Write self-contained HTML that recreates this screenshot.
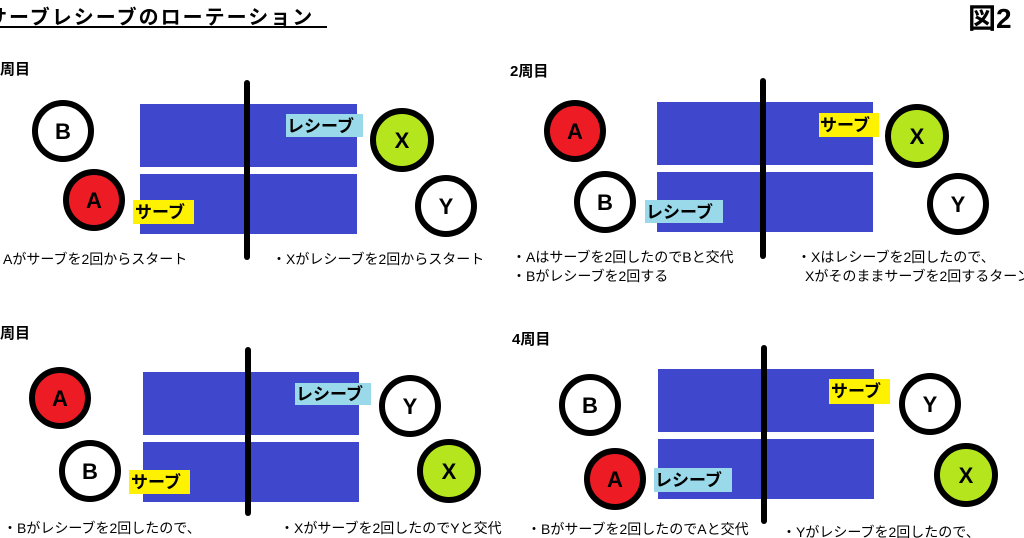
<!DOCTYPE html>
<html><head><meta charset="utf-8"><style>
html,body{margin:0;padding:0;background:#fff;width:1024px;height:538px;overflow:hidden}
svg{display:block}
text{font-family:"Liberation Sans","Noto Sans CJK JP",sans-serif}
.b{font-weight:bold}
.d{font-size:14px}
.lab{font-size:17px;font-weight:bold}
.c{font-size:22px;font-weight:bold}
</style></head><body>
<svg width="1024" height="538" viewBox="0 0 1024 538" xmlns="http://www.w3.org/2000/svg">
<text x="-13" y="24" class="b" font-size="20" letter-spacing="2">サーブレシーブのローテーション</text>
<rect x="0" y="26" width="327" height="2" fill="#000"/>
<text x="968" y="28" class="b" font-size="28">図2</text>

<!-- Panel 1 -->
<text x="0" y="74" class="b" font-size="15">周目</text>
<rect x="140" y="104" width="217" height="63" fill="#3f48cc"/>
<rect x="140" y="174" width="217" height="60" fill="#3f48cc"/>
<line x1="247" y1="83" x2="247" y2="257" stroke="#000" stroke-width="6" stroke-linecap="round"/>
<rect x="286" y="114" width="77" height="23" fill="#99d9ea"/><text x="287" y="132" class="lab">レシーブ</text>
<rect x="133" y="200" width="61" height="24" fill="#fff200"/><text x="135" y="218" class="lab">サーブ</text>
<circle cx="63" cy="131" r="28" fill="#fff" stroke="#000" stroke-width="6"/><text x="63" y="139" class="c" text-anchor="middle">B</text>
<circle cx="94" cy="200" r="28" fill="#ed1c24" stroke="#000" stroke-width="6"/><text x="94" y="208" class="c" text-anchor="middle">A</text>
<circle cx="402" cy="140" r="29" fill="#b5e61d" stroke="#000" stroke-width="6"/><text x="402" y="148" class="c" text-anchor="middle">X</text>
<circle cx="446" cy="206" r="28" fill="#fff" stroke="#000" stroke-width="6"/><text x="446" y="214" class="c" text-anchor="middle">Y</text>
<text x="3" y="264" class="d">Aがサーブを2回からスタート</text>
<text x="272" y="264" class="d">・Xがレシーブを2回からスタート</text>

<!-- Panel 2 -->
<text x="510" y="76" class="b" font-size="15">2周目</text>
<rect x="657" y="102" width="216" height="63" fill="#3f48cc"/>
<rect x="657" y="172" width="216" height="60" fill="#3f48cc"/>
<line x1="763" y1="81" x2="763" y2="256" stroke="#000" stroke-width="6" stroke-linecap="round"/>
<rect x="819" y="113" width="60" height="24" fill="#fff200"/><text x="820" y="131" class="lab">サーブ</text>
<rect x="645" y="200" width="78" height="23" fill="#99d9ea"/><text x="646" y="218" class="lab">レシーブ</text>
<circle cx="575" cy="131" r="28" fill="#ed1c24" stroke="#000" stroke-width="6"/><text x="575" y="139" class="c" text-anchor="middle">A</text>
<circle cx="605" cy="202" r="28" fill="#fff" stroke="#000" stroke-width="6"/><text x="605" y="210" class="c" text-anchor="middle">B</text>
<circle cx="917" cy="136" r="29" fill="#b5e61d" stroke="#000" stroke-width="6"/><text x="917" y="144" class="c" text-anchor="middle">X</text>
<circle cx="958" cy="204" r="28" fill="#fff" stroke="#000" stroke-width="6"/><text x="958" y="212" class="c" text-anchor="middle">Y</text>
<text x="512" y="262" class="d">・Aはサーブを2回したのでBと交代</text>
<text x="512" y="281" class="d">・Bがレシーブを2回する</text>
<text x="797" y="262" class="d">・Xはレシーブを2回したので、</text>
<text x="805" y="281" class="d">Xがそのままサーブを2回するターン</text>

<!-- Panel 3 -->
<text x="0" y="338" class="b" font-size="15">周目</text>
<rect x="143" y="372" width="216" height="63" fill="#3f48cc"/>
<rect x="143" y="442" width="216" height="60" fill="#3f48cc"/>
<line x1="248" y1="350" x2="248" y2="513" stroke="#000" stroke-width="6" stroke-linecap="round"/>
<rect x="295" y="383" width="76" height="22" fill="#99d9ea"/><text x="296" y="400" class="lab">レシーブ</text>
<rect x="129" y="470" width="61" height="24" fill="#fff200"/><text x="131" y="488" class="lab">サーブ</text>
<circle cx="60" cy="398" r="28" fill="#ed1c24" stroke="#000" stroke-width="6"/><text x="60" y="406" class="c" text-anchor="middle">A</text>
<circle cx="90" cy="471" r="28" fill="#fff" stroke="#000" stroke-width="6"/><text x="90" y="479" class="c" text-anchor="middle">B</text>
<circle cx="410" cy="406" r="28" fill="#fff" stroke="#000" stroke-width="6"/><text x="410" y="414" class="c" text-anchor="middle">Y</text>
<circle cx="449" cy="471" r="29" fill="#b5e61d" stroke="#000" stroke-width="6"/><text x="449" y="479" class="c" text-anchor="middle">X</text>
<text x="3" y="533" class="d">・Bがレシーブを2回したので、</text>
<text x="280" y="533" class="d">・Xがサーブを2回したのでYと交代</text>

<!-- Panel 4 -->
<text x="512" y="344" class="b" font-size="15">4周目</text>
<rect x="658" y="369" width="216" height="63" fill="#3f48cc"/>
<rect x="658" y="439" width="216" height="60" fill="#3f48cc"/>
<line x1="764" y1="348" x2="764" y2="521" stroke="#000" stroke-width="6" stroke-linecap="round"/>
<rect x="829" y="379" width="61" height="25" fill="#fff200"/><text x="831" y="397" class="lab">サーブ</text>
<rect x="654" y="468" width="78" height="24" fill="#99d9ea"/><text x="655" y="486" class="lab">レシーブ</text>
<circle cx="590" cy="405" r="28" fill="#fff" stroke="#000" stroke-width="6"/><text x="590" y="413" class="c" text-anchor="middle">B</text>
<circle cx="615" cy="479" r="28" fill="#ed1c24" stroke="#000" stroke-width="6"/><text x="615" y="487" class="c" text-anchor="middle">A</text>
<circle cx="930" cy="404" r="28" fill="#fff" stroke="#000" stroke-width="6"/><text x="930" y="412" class="c" text-anchor="middle">Y</text>
<circle cx="966" cy="475" r="29" fill="#b5e61d" stroke="#000" stroke-width="6"/><text x="966" y="483" class="c" text-anchor="middle">X</text>
<text x="527" y="534" class="d">・Bがサーブを2回したのでAと交代</text>
<text x="782" y="537" class="d">・Yがレシーブを2回したので、</text>
</svg>
</body></html>
